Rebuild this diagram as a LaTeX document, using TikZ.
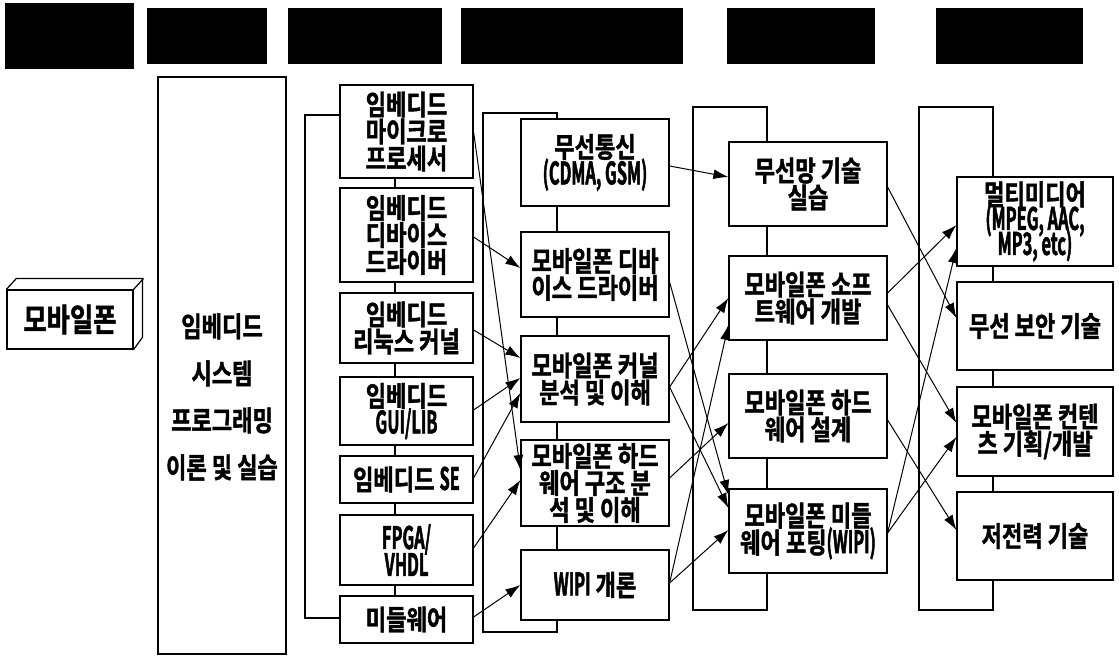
\documentclass[tikz,border=0pt]{standalone}
\usepackage{fontspec}
\newfontfamily\kr{Noto Sans CJK KR}[FakeStretch=0.79, BoldFont={* Bold}, BoldFeatures={FakeBold=1.5}]
\newfontfamily\krlat{Noto Sans CJK KR}[FakeStretch=0.53, BoldFont={* Bold}, BoldFeatures={FakeBold=1.5}]
\newcommand{\lat}[2][27]{{\krlat\bfseries\fontsize{31}{#1}\selectfont #2}}
\newcommand{\serre}{\lineskiplimit-30pt\relax}
\usetikzlibrary{arrows.meta}

\begin{document}
\begin{tikzpicture}[x=1pt, y=-1pt, line width=1.2pt,
    bande/.style={fill=black, draw=none, inner sep=0pt, minimum height=56},
    boite/.style={draw, fill=white, align=center, inner sep=0pt, minimum width=#1,
        font=\kr\bfseries\fontsize{28}{27}\selectfont\serre},
    fleche/.style={-{Latex[length=15pt, width=10pt]}, line width=1pt}]
    \useasboundingbox (0,0) rectangle (1119,658);
    % Bandeaux noirs
    \node[bande, minimum width=129, minimum height=66] (b1) at (69.5,36) {};
    \node[bande, minimum width=120] (b2) at (207,36) {};
    \node[bande, minimum width=154] (b3) at (365,36) {};
    \node[bande, minimum width=222] (b4) at (572,36) {};
    \node[bande, minimum width=148] (b5) at (801,36) {};
    \node[bande, minimum width=147] (b6) at (1009.5,36) {};
    % Boite 3D
    \node[boite=126, minimum height=59, font=\kr\bfseries\fontsize{32}{30}\selectfont] (phone) at (70,319.5) {모바일폰};
    \draw (phone.north west) -- ++(10,-11) -- ++(126,0) -- ++(0,59) -- (phone.south east);
    \draw (phone.north east) -- ++(10,-11);
    % Grande boite
    \node[boite=128, minimum height=577] (sys) at (222,365.5) {};
    \node[align=center, font=\kr\bfseries\fontsize{28}{47}\selectfont] (systxt) at (222,397) {임베디드\\시스템\\프로그래밍\\이론 및 실습};
    % Cadres des colonnes
    \draw (305,115) rectangle (395,618);
    \draw (483,113) rectangle (557,632);
    \draw (693,107) rectangle (767,610);
    \draw (919,107) rectangle (993,610);
    % Colonne 3
    \node[boite=133, minimum height=93] (c3a) at (406.5,131.5) {임베디드\\마이크로\\프로세서};
    \node[boite=133, minimum height=94] (c3b) at (406.5,235) {임베디드\\디바이스\\드라이버};
    \node[boite=133, minimum height=70] (c3c) at (406.5,328) {임베디드\\리눅스 커널};
    \node[boite=133, minimum height=68] (c3d) at (406.5,411) {임베디드\\\lat{GUI/LIB}};
    \node[boite=133, minimum height=47] (c3e) at (406.5,479.5) {임베디드 \lat{SE}};
    \node[boite=133, minimum height=70] (c3f) at (406.5,550) {\lat{FPGA/}\\\lat{VHDL}};
    \node[boite=133, minimum height=47] (c3g) at (406.5,619.5) {미들웨어};
    % Colonne 4
    \node[boite=148, minimum height=87] (c4a) at (595,162.5) {무선통신\\\lat{(CDMA, GSM)}};
    \node[boite=148, minimum height=85] (c4b) at (595,274.5) {모바일폰 디바\\이스 드라이버};
    \node[boite=148, minimum height=86] (c4c) at (595,379) {모바일폰 커널\\분석 및 이해};
    \node[boite=148, minimum height=86] (c4d) at (595,483) {모바일폰 하드\\웨어 구조 분\\석 및 이해};
    \node[boite=148, minimum height=70] (c4e) at (595,585) {\lat{WIPI} 개론};
    % Colonne 5
    \node[boite=158, minimum height=84] (c5a) at (808,184) {무선망 기술\\실습};
    \node[boite=158, minimum height=84] (c5b) at (808,298) {모바일폰 소프\\트웨어 개발};
    \node[boite=158, minimum height=84] (c5c) at (808,416) {모바일폰 하드\\웨어 설계};
    \node[boite=158, minimum height=84] (c5d) at (808,531) {모바일폰 미들\\웨어 포팅\lat{(WIPI)}};
    % Colonne 6
    \node[boite=156, minimum height=89, font=\kr\bfseries\fontsize{28}{25}\selectfont\serre] (c6a) at (1035,221.5) {멀티미디어\\\lat[25]{(MPEG, AAC,}\\\lat[25]{MP3, etc)}};
    \node[boite=156, minimum height=88] (c6b) at (1035,326) {무선 보안 기술};
    \node[boite=156, minimum height=89] (c6c) at (1035,431.5) {모바일폰 컨텐\\츠 기획/개발};
    \node[boite=156, minimum height=88] (c6d) at (1035,536) {저전력 기술};
    % Fleches colonne 3 -> 4
    \draw[fleche] (c3a.east |- 0,132) -- (c4d.west |- 0,470);
    \draw[fleche] (c3b.east |- 0,237) -- (c4b.west |- 0,268);
    \draw[fleche] (c3c.east |- 0,330) -- (c4c.west |- 0,358);
    \draw[fleche] (c3d.east |- 0,410) -- (c4c.west |- 0,378);
    \draw[fleche] (c3e.east |- 0,478) -- (c4c.west |- 0,393);
    \draw[fleche] (c3f.east |- 0,548) -- (c4d.west |- 0,480);
    \draw[fleche] (c3g.east |- 0,617) -- (c4e.west |- 0,585);
    % Fleches colonne 4 -> 5
    \draw[fleche] (c4a.east |- 0,166) -- (c5a.west |- 0,177);
    \draw[fleche] (c4b.east |- 0,282) -- (c5d.west |- 0,495);
    \draw[fleche] (c4c.east |- 0,387) -- (c5b.west |- 0,298);
    \draw[fleche] (c4c.east |- 0,387) -- (c5d.west |- 0,508);
    \draw[fleche] (c4d.east |- 0,478) -- (c5c.west |- 0,423);
    \draw[fleche] (c4e.east |- 0,583) -- (c5b.west |- 0,325);
    \draw[fleche] (c4e.east |- 0,583) -- (c5d.west |- 0,530);
    % Fleches colonne 5 -> 6
    \draw[fleche] (c5a.east |- 0,187) -- (c6b.west |- 0,318);
    \draw[fleche] (c5b.east |- 0,293) -- (c6a.west |- 0,225);
    \draw[fleche] (c5b.east |- 0,305) -- (c6c.west |- 0,423);
    \draw[fleche] (c5c.east |- 0,420) -- (c6d.west |- 0,530);
    \draw[fleche] (c5d.east |- 0,533) -- (c6a.west |- 0,248);
    \draw[fleche] (c5d.east |- 0,533) -- (c6c.west |- 0,437);
\end{tikzpicture}
\end{document}
